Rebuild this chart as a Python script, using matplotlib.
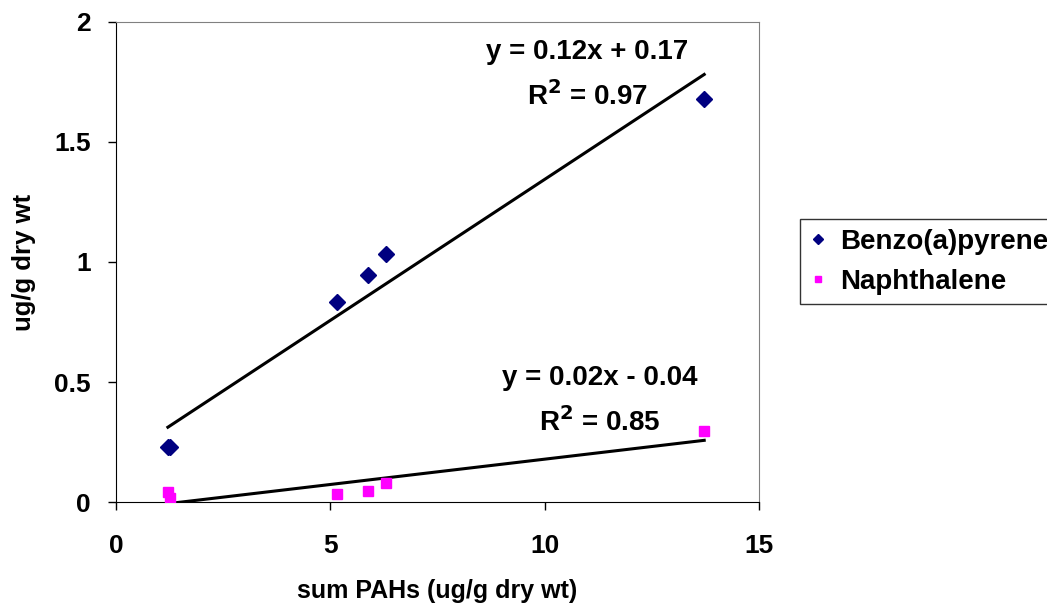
import numpy as np
import matplotlib
matplotlib.use("Agg")
import matplotlib.pyplot as plt

plt.rcParams['font.family'] = ['Liberation Sans', 'DejaVu Sans']
plt.rcParams['font.weight'] = 'bold'

# sum PAHs (ug/g dry wt) for each sample
sum_pahs = [1.21, 1.26, 5.15, 5.88, 6.3, 13.72]
# individual compounds (ug/g dry wt)
benzo = [0.23, 0.23, 0.835, 0.945, 1.035, 1.68]
naph = [0.04, 0.018, 0.033, 0.046, 0.08, 0.296]

x_ticks = [0, 5, 10, 15]
y_ticks = [0, 0.5, 1, 1.5, 2]
y_tick_labels = ['0', '0.5', '1', '1.5', '2']

fig = plt.figure(figsize=(10.47, 6.1), dpi=100)
ax = fig.add_axes([0.1108, 0.177, 0.6142, 0.787])

x = np.array(sum_pahs)
xs = np.array([x.min(), x.max()])

# linear trendlines fitted from the data, drawn over the data range
b1 = np.polyfit(x, benzo, 1)
b2 = np.polyfit(x, naph, 1)
ax.plot(xs, np.polyval(b1, xs), color='black', lw=2.2, zorder=2)
ax.plot(xs, np.polyval(b2, xs), color='black', lw=2.2, zorder=2)

ax.plot(x, benzo, 'D', color='#000080', ms=8, ls='none', label='Benzo(a)pyrene', zorder=3)
ax.plot(x, naph, 's', color='#FF00FF', ms=7, ls='none', label='Naphthalene', zorder=3)

ax.set_xlim(0, 15)
ax.set_ylim(0, 2)
ax.set_xticks(x_ticks)
ax.set_yticks(y_ticks)
ax.set_yticklabels(y_tick_labels)
ax.tick_params(direction='out', length=6, width=1, labelsize=19)
ax.tick_params(axis='x', pad=17)
ax.tick_params(axis='y', pad=12)
for s in ['top', 'right']:
    ax.spines[s].set_color('#808080')
for s in ['left', 'bottom']:
    ax.spines[s].set_color('black')

ax.set_xlabel('sum PAHs (ug/g dry wt)', fontsize=18, fontweight='bold', labelpad=15)
ax.set_ylabel('ug/g dry wt', fontsize=18.5, fontweight='bold', labelpad=13)

ax.text(11.0, 1.875, 'y = 0.12x + 0.17', fontsize=20, fontweight='bold', ha='center', va='center')
ax.text(11.0, 1.69, 'R$^2$ = 0.97', fontsize=20, fontweight='bold', ha='center', va='center')
ax.text(11.28, 0.517, 'y = 0.02x - 0.04', fontsize=20, fontweight='bold', ha='center', va='center')
ax.text(11.28, 0.335, 'R$^2$ = 0.85', fontsize=20, fontweight='bold', ha='center', va='center')

leg = fig.legend(loc='upper left', bbox_to_anchor=(0.764, 0.641), borderaxespad=0, fontsize=20,
                 frameon=True, fancybox=False, edgecolor='black', handlelength=0.6,
                 handletextpad=0.5, borderpad=0.35, labelspacing=0.5, markerscale=0.7)
leg.get_frame().set_linewidth(1)

fig.savefig('out.png', dpi=100)
